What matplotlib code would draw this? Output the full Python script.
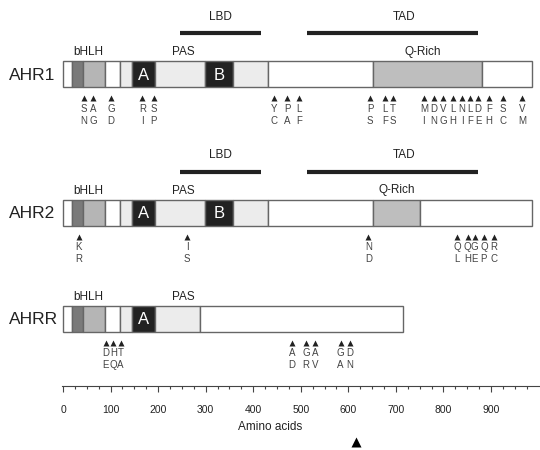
"""
plot.py
    domain map of AHR1, AHR2 and AHRR with point mutations
"""
import numpy as np
import matplotlib.pyplot as plt

# ---- data (positions in amino acids) ----
proteins = ['AHR1', 'AHR2', 'AHRR']

# segment boundaries and fill kind for each protein
ahr1_edges = [0, 18, 42, 88, 120, 145, 194, 298, 357, 431, 652, 881, 986]
ahr1_kinds = ['w', 'd', 'l', 'w', 'v', 'A', 'v', 'B', 'v', 'w', 'q', 'w']
ahr2_edges = [0, 18, 42, 88, 120, 145, 194, 298, 357, 431, 652, 751, 986]
ahr2_kinds = ['w', 'd', 'l', 'w', 'v', 'A', 'v', 'B', 'v', 'w', 'q', 'w']
ahrr_edges = [0, 18, 42, 88, 120, 145, 194, 288, 715]
ahrr_kinds = ['w', 'd', 'l', 'w', 'v', 'A', 'v', 'w']

# mutations: position, original residue, substituted residue
ahr1_mut_pos = [44, 63, 101, 167, 191, 444, 471, 496, 646, 677, 694,
                759, 780, 799, 820, 839, 856, 873, 896, 925, 965]
ahr1_mut_from = ['S', 'A', 'G', 'R', 'S', 'Y', 'P', 'L', 'P', 'L', 'T',
                 'M', 'D', 'V', 'L', 'N', 'L', 'D', 'F', 'S', 'V']
ahr1_mut_to = ['N', 'G', 'D', 'I', 'P', 'C', 'A', 'F', 'S', 'F', 'S',
               'I', 'N', 'G', 'H', 'I', 'F', 'E', 'H', 'C', 'M']
ahr2_mut_pos = [33, 261, 642, 829, 851, 866, 885, 906]
ahr2_mut_from = ['K', 'I', 'N', 'Q', 'Q', 'G', 'Q', 'R']
ahr2_mut_to = ['R', 'S', 'D', 'L', 'H', 'E', 'P', 'C']
ahrr_mut_pos = [90, 106, 121, 482, 511, 530, 584, 603]
ahrr_mut_from = ['D', 'H', 'T', 'A', 'G', 'A', 'G', 'D']
ahrr_mut_to = ['E', 'Q', 'A', 'D', 'R', 'V', 'A', 'N']

# domain labels above the bars
dom_names = ['bHLH', 'PAS', 'Q-Rich']
ahr1_dom_x = [53, 252, 757]
ahr2_dom_x = [53, 252, 702]
ahrr_dom_x = [53, 252]

# functional regions (LBD, TAD) drawn as lines
region_names = ['LBD', 'TAD']
region_start = [246, 513]
region_end = [416, 873]
region_label_x = [331, 717]

ruler_major = np.arange(0, 1000, 100)
ruler_minor = np.arange(0, 1000, 25)

# ---- style ----
fill = {'w': 'white', 'd': '#7a7a7a', 'l': '#b5b5b5', 'v': '#ececec',
        'A': '#222222', 'B': '#222222', 'q': '#bebebe'}
narrow = ['Liberation Sans', 'DejaVu Sans']
plain = ['Liberation Sans', 'DejaVu Sans']

W, H = 540, 450
px_per_aa = 0.4755
x0 = 63  # pixel column of residue 0

fig = plt.figure(figsize=(W / 100, H / 100), dpi=100)
ax = fig.add_axes([0, 0, 1, 1])
ax.set_xlim(-x0 / px_per_aa, (W - x0) / px_per_aa)
ax.set_ylim(H, 0)
ax.axis('off')

rows = [
    (74, ahr1_edges, ahr1_kinds, ahr1_mut_pos, ahr1_mut_from, ahr1_mut_to, ahr1_dom_x, True),
    (212.5, ahr2_edges, ahr2_kinds, ahr2_mut_pos, ahr2_mut_from, ahr2_mut_to, ahr2_dom_x, True),
    (318.5, ahrr_edges, ahrr_kinds, ahrr_mut_pos, ahrr_mut_from, ahrr_mut_to, ahrr_dom_x, False),
]
bar_h = 26

for name, (yc, edges, kinds, mpos, mfrom, mto, dom_x, has_regions) in zip(proteins, rows):
    top, bot = yc - bar_h / 2, yc + bar_h / 2
    lefts = np.array(edges[:-1])
    widths = np.diff(edges)
    ax.barh(yc, widths, left=lefts, height=bar_h,
            color=[fill[k] for k in kinds], edgecolor='#666666', linewidth=1.0)
    for l, w, k in zip(lefts, widths, kinds):
        if k in ('A', 'B'):
            ax.text(l + w / 2, yc + 1, k, color='white', ha='center', va='center',
                    fontsize=12, family=narrow)
    ax.text(-114, yc + 1, name, ha='left', va='center', fontsize=12.5,
            family=plain, color='#222222')

    # domain labels
    for dn, dx in zip(dom_names, dom_x):
        ax.text(dx, top - 9, dn, ha='center', va='center', fontsize=8.5,
                family=narrow, color='#222222')

    # LBD / TAD regions
    if has_regions:
        for rn, rs, re_, rx in zip(region_names, region_start, region_end, region_label_x):
            ax.plot([rs, re_], [top - 28, top - 28], color='#222222', lw=3,
                    solid_capstyle='butt')
            ax.text(rx, top - 44, rn, ha='center', va='center', fontsize=8.5,
                    family=narrow, color='#222222')

    # mutations
    ax.plot(mpos, [bot + 11] * len(mpos), ls='none', marker='^', ms=4.5,
            color='#222222', mec='none')
    for p, a, b in zip(mpos, mfrom, mto):
        ax.text(p, bot + 22, a, ha='center', va='center', fontsize=7,
                family=plain, color='#444444')
        ax.text(p, bot + 34, b, ha='center', va='center', fontsize=7,
                family=plain, color='#444444')

# ---- ruler ----
ruler_y = 386
rax = fig.add_axes([0, 1 - ruler_y / H, 1, 0.001])
rax.set_xlim(ax.get_xlim())
rax.set_yticks([])
for s in ['top', 'left', 'right']:
    rax.spines[s].set_visible(False)
rax.spines['bottom'].set_color('#444444')
rax.spines['bottom'].set_linewidth(0.8)
rax.spines['bottom'].set_bounds(-2, 1003)
rax.patch.set_alpha(0)
rax.set_xticks(ruler_major)
rax.set_xticks(ruler_minor, minor=True)
rax.tick_params(axis='x', which='major', length=4, width=0.8, color='#444444',
                labelsize=7.5, pad=10, labelcolor='#222222')
rax.tick_params(axis='x', which='minor', length=2.5, width=0.8, color='#444444')
for t in rax.get_xticklabels():
    t.set_family(narrow)
rax.set_xlabel('Amino acids', fontsize=8.5, family=narrow, labelpad=4, color='#222222')

# stray arrowhead below the axis label
ax.plot([617], [442], marker='^', ms=7, color='black', mec='none')

fig.savefig('out.png', dpi=100)
